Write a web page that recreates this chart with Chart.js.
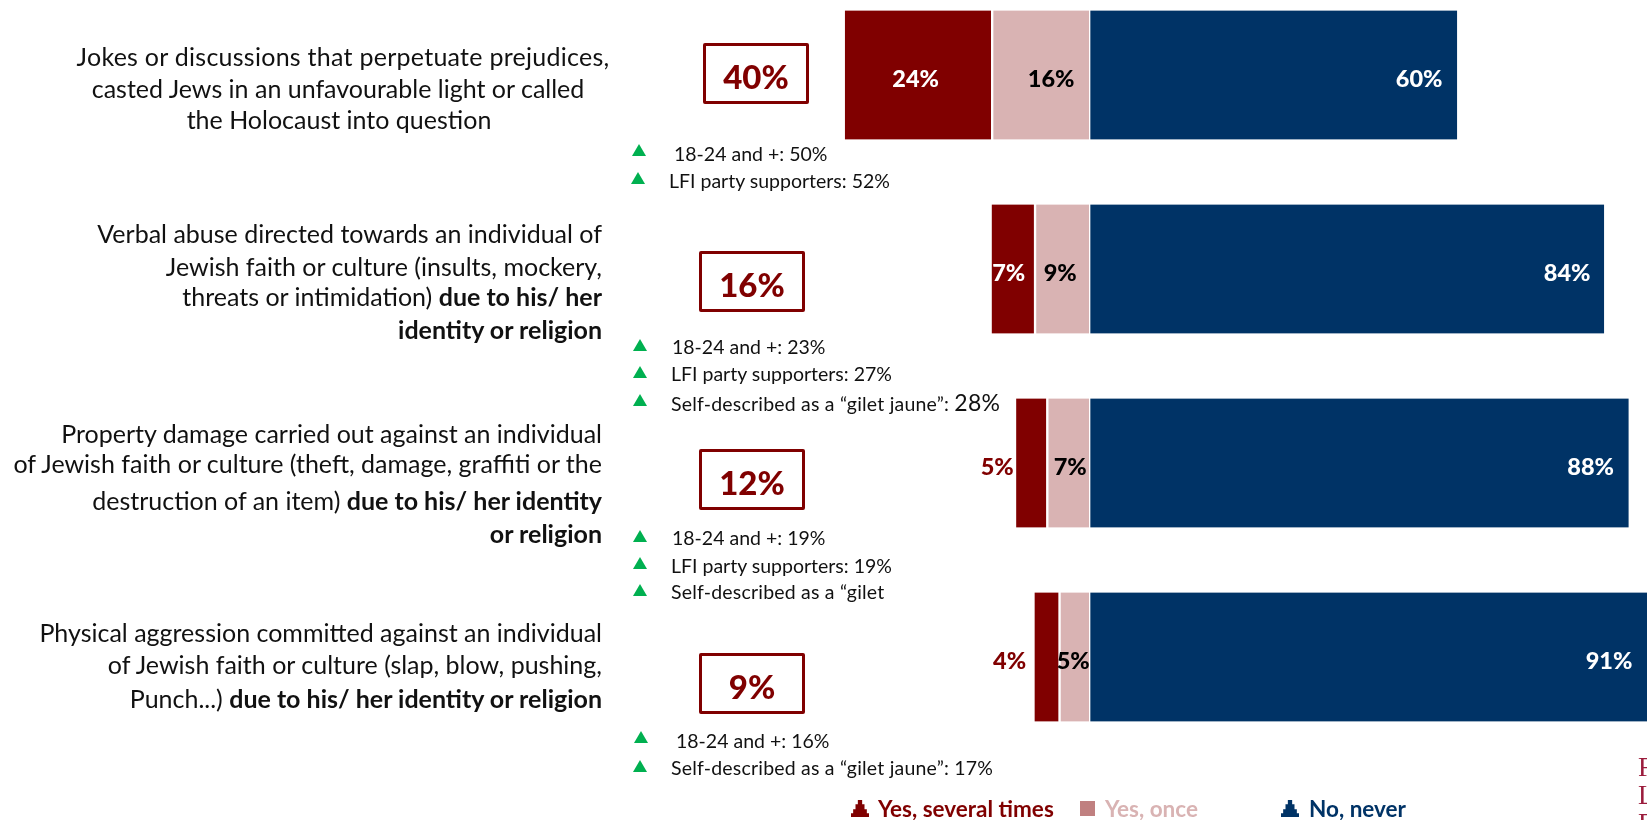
<!DOCTYPE html>
<html>
<head>
<meta charset="utf-8">
<script src="https://cdn.jsdelivr.net/npm/chart.js@4"></script>
<style>
    html, body { margin: 0; background: #fff; overflow: hidden; width: 1647px; height: 820px; }
    body { position: relative; font-family: Lato, sans-serif; }
    #productionChart { position: absolute; left: 0; top: -22px; }
    .t { position: absolute; white-space: nowrap; line-height: 1; transform: translateY(-50%); }
    .q { font-size: 25px; color: #111; }
    .sub { font-size: 19.5px; color: #111; }
    .tri { position: absolute; width: 14px; height: 12px; background: #00b050; clip-path: polygon(50% 0, 100% 100%, 0 100%); }
    .box { position: absolute; width: 100px; height: 55px; border: 3px solid #800000; border-radius: 2px;
           color: #800000; font-weight: 900; font-size: 33px; text-align: center; line-height: 60px; }
    .leg { font-size: 22.5px; font-weight: 700; }
    .pawn { position: absolute; width: 18px; height: 17px; top: 800px;
            clip-path: polygon(38% 0, 62% 0, 62% 25%, 75% 25%, 75% 55%, 88% 55%, 88% 78%, 100% 78%, 100% 100%, 0 100%, 0 78%, 12% 78%, 12% 55%, 25% 55%, 25% 25%, 38% 25%); }
    .logo { font-family: "Liberation Serif", serif; font-size: 27px; color: #9b1c3c; }
</style>
</head>
<body>
<canvas id="productionChart" width="1647" height="842"></canvas>
<div id="overlay"></div>

<script>
const categories = ['Jokes or discussions', 'Verbal abuse', 'Property damage', 'Physical aggression'];
const yesOnce = [-16, -9, -7, -5];
const yesSeveral = [-24, -7, -5, -4];
const noNever = [60, 84, 88, 91];
const totals = ['40%', '16%', '12%', '9%'];

const questionLines = [
    ['Jokes or discussions that perpetuate prejudices,', 'casted Jews in an unfavourable light or called', 'the Holocaust into question'],
    ['Verbal abuse directed towards an individual of', 'Jewish faith or culture (insults, mockery,', 'threats or intimidation) <b>due to his/ her</b>', '<b>identity or religion</b>'],
    ['Property damage carried out against an individual', 'of Jewish faith or culture (theft, damage, graffiti or the', 'destruction of an item) <b>due to his/ her identity</b>', '<b>or religion</b>'],
    ['Physical aggression committed against an individual', 'of Jewish faith or culture (slap, blow, pushing,', 'Punch...) <b>due to his/ her identity or religion</b>']
];
const subgroupLines = [
    ['18-24 and +: 50%', 'LFI party supporters: 52%'],
    ['18-24 and +: 23%', 'LFI party supporters: 27%', 'Self-described as a “gilet jaune”: <span style="font-size:23px">28%</span>'],
    ['18-24 and +: 19%', 'LFI party supporters: 19%', 'Self-described as a “gilet'],
    ['18-24 and +: 16%', 'Self-described as a “gilet jaune”: 17%']
];

// layout of the text around the bars
const questionY = [[56, 88, 119], [233, 266, 296, 329], [433, 463, 500, 533], [632, 664, 698]];
const firstBlockCentre = [343, 338, 339];
const subgroupY = [[154, 181], [347, 374, 402], [538, 566, 592], [741, 768]];
const subgroupX = [[674, 669], [672, 671, 671], [672, 671, 671], [676, 671]];
const triangleX = [[632, 631], [633, 633, 633], [633, 633, 633], [634, 633]];
const triangleY = [[144, 172], [339, 366, 394], [530, 557, 584], [731, 760]];
const boxX = [703, 699, 699, 699];
const boxY = [43, 251, 449, 653];

// label offsets from the end of each bar segment, in px
const severalOffset = [71, 17, -19, -25];
const onceOffset = [-38.5, -29.5, -19.5, -16.5];
const neverOffset = [-38, -37, -38, -38];

function addText(html, x, y, cls, right) {
    const d = document.createElement('div');
    d.className = 't ' + cls;
    d.innerHTML = html;
    d.style.top = y + 'px';
    if (right) d.style.right = (1647 - x) + 'px';
    else d.style.left = x + 'px';
    document.getElementById('overlay').appendChild(d);
    return d;
}

function buildOverlay() {
    const overlay = document.getElementById('overlay');
    questionLines.forEach(function(lines, row) {
        lines.forEach(function(line, i) {
            const d = addText(line, 602, questionY[row][i], 'q', true);
            if (row === 0) { // first block is centred, the others are right aligned
                d.style.right = '';
                d.style.left = firstBlockCentre[i] + 'px';
                d.style.transform = 'translate(-50%, -50%)';
                if (i === 0) d.style.letterSpacing = '0.26px';
            }
        });
    });
    subgroupLines.forEach(function(lines, row) {
        lines.forEach(function(line, i) {
            const d = addText(line, subgroupX[row][i], subgroupY[row][i], 'sub');
            if (line.indexOf('Self') === 0) d.style.letterSpacing = '0.2px';
            const tri = document.createElement('div');
            tri.className = 'tri';
            tri.style.left = triangleX[row][i] + 'px';
            tri.style.top = triangleY[row][i] + 'px';
            overlay.appendChild(tri);
        });
    });
    totals.forEach(function(total, row) {
        const box = document.createElement('div');
        box.className = 'box';
        box.textContent = total;
        box.style.left = boxX[row] + 'px';
        box.style.top = boxY[row] + 'px';
        overlay.appendChild(box);
    });

    addText('Yes, several times', 878, 809, 'leg').style.color = '#800000';
    addText('Yes, once', 1105, 809, 'leg').style.color = '#d9b3b3';
    addText('No, never', 1309, 809, 'leg').style.color = '#003366';
    [[851, '#800000'], [1281, '#003366']].forEach(function(p) {
        const icon = document.createElement('div');
        icon.className = 'pawn';
        icon.style.left = p[0] + 'px';
        icon.style.background = p[1];
        overlay.appendChild(icon);
    });
    const sq = document.createElement('div');
    sq.style.cssText = 'position:absolute;left:1080px;top:801px;width:15px;height:15px;background:#c08080';
    overlay.appendChild(sq);

    addText('F', 1638, 767, 'logo');
    addText('L', 1638, 795, 'logo');
    addText('F', 1638, 823, 'logo');
}

// value labels sit at hand-read offsets, so they are drawn here and not by a datalabels plugin
const barLabels = {
    id: 'barLabels',
    afterDatasetsDraw: function(chart) {
        const ctx = chart.ctx;
        ctx.save();
        ctx.font = '900 23.5px Lato';
        ctx.textAlign = 'center';
        ctx.textBaseline = 'middle';
        chart.data.datasets.forEach(function(ds, i) {
            chart.getDatasetMeta(i).data.forEach(function(bar, row) {
                const pct = Math.abs(ds.data[row]) + '%';
                let x = bar.x + neverOffset[row];
                let color = '#ffffff';
                if (i === 0) {
                    x = bar.base + onceOffset[row];
                    color = '#000000';
                } else if (i === 1) {
                    x = bar.x + severalOffset[row];
                    color = severalOffset[row] < 0 ? '#800000' : '#ffffff';
                }
                ctx.fillStyle = color;
                ctx.fillText(pct, x, bar.y + 4);
            });
        });
        ctx.restore();
    }
};

function init() {
    buildOverlay();
    const ctx = document.getElementById('productionChart').getContext('2d');
    new Chart(ctx, {
        type: 'bar',
        data: {
            labels: categories,
            datasets: [
                { label: 'Yes, once', data: yesOnce, backgroundColor: '#d9b3b3', borderColor: '#ffffff', borderWidth: { left: 2, right: 1, top: 0, bottom: 0 }, borderSkipped: false },
                { label: 'Yes, several times', data: yesSeveral, backgroundColor: '#800000', borderColor: '#ffffff', borderWidth: { left: 0, right: 1, top: 0, bottom: 0 }, borderSkipped: false },
                { label: 'No, never', data: noNever, backgroundColor: '#003366', borderColor: '#ffffff', borderWidth: { left: 1, right: 0, top: 0, bottom: 0 }, borderSkipped: false }
            ]
        },
        options: {
            indexAxis: 'y',
            responsive: false,
            animation: false,
            barThickness: 129,
            layout: { padding: { left: 844.7, right: 0, top: 0, bottom: 66 } },
            plugins: { legend: { display: false }, tooltip: { enabled: false } },
            scales: {
                x: { stacked: true, display: false, min: -40, max: 91 },
                y: { stacked: true, display: false }
            }
        },
        plugins: [barLabels]
    });
}

init();
</script>
</body>
</html>
